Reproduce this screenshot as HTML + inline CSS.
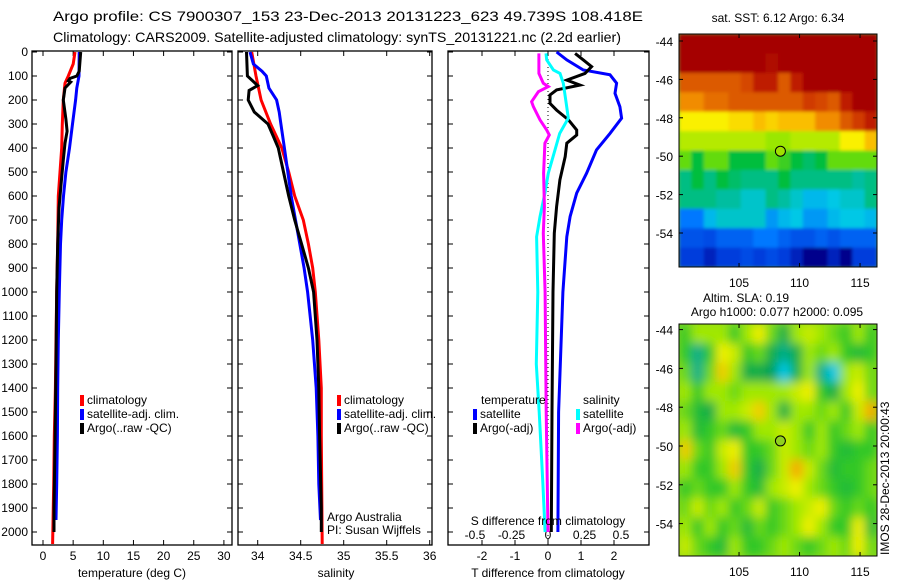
<!DOCTYPE html>
<html><head><meta charset="utf-8"><style>
html,body{margin:0;padding:0;background:#fff;}
svg{display:block;font-family:"Liberation Sans",sans-serif;}
text{font-size:12px;fill:#000;}
</style></head><body>
<svg id="fig" width="900" height="580" viewBox="0 0 900 580">
<defs>
<filter id="blurSla" x="0" y="0" width="1" height="1"><feGaussianBlur stdDeviation="5" edgeMode="duplicate"/></filter>
<filter id="blurSst" x="0" y="0" width="1" height="1"><feGaussianBlur stdDeviation="1.5" edgeMode="duplicate"/></filter>
<clipPath id="clipSst"><rect x="679" y="34" width="198" height="233"/></clipPath>
<clipPath id="clipSla"><rect x="679" y="324" width="198" height="232"/></clipPath>
</defs>
<text x="53" y="21" textLength="590" lengthAdjust="spacingAndGlyphs" style="font-size:14px">Argo profile: CS 7900307_153 23-Dec-2013 20131223_623 49.739S 108.418E</text>
<text x="53" y="42" textLength="568" lengthAdjust="spacingAndGlyphs" style="font-size:14px">Climatology: CARS2009. Satellite-adjusted climatology: synTS_20131221.nc (2.2d earlier)</text>
<g id="g"></g>
</svg>
<script>
// ---------- data ----------
const depthTicks=[0,100,200,300,400,500,600,700,800,900,1000,1100,1200,1300,1400,1500,1600,1700,1800,1900,2000];
const tempTicks=[0,5,10,15,20,25,30];
const salTicks=[34,34.5,35,35.5,36];
const salTickLabels=["34","34.5","35","35.5","36"];
const tdTicks=[-2,-1,0,1,2];
const sdTicks=[-0.5,-0.25,0,0.25,0.5];
const sdTickLabels=["-0.5","-0.25","0","0.25","0.5"];

const climTD=[0,50,100,130,200,300,400,500,600,800,1000,1200,1400,1600,1800,2050];
const climT=[5.3,5.0,4.2,3.65,3.37,3.2,3.1,2.82,2.54,2.43,2.27,2.16,2.05,1.88,1.77,1.6];
const satTD=[0,100,150,200,300,400,500,600,700,800,1000,1200,1400,1600,1800,1950];
const satT=[6.0,5.97,5.6,5.4,4.9,4.4,3.8,3.4,3.1,2.9,2.7,2.54,2.43,2.38,2.27,2.16];
const argoTD=[0,80,100,110,120,125,150,200,280,330,380,450,550,650,800,1000,1300,1600,1900,2000];
const argoT=[6.25,6.0,5.6,4.5,4.2,4.6,3.65,3.37,3.8,4.0,3.65,3.37,3.0,2.65,2.43,2.27,2.16,2.0,1.82,1.82];

const climSD=[0,100,200,300,400,500,600,700,800,900,1000,1200,1400,1600,2050];
const climS=[33.93,33.98,34.04,34.15,34.28,34.36,34.43,34.53,34.59,34.64,34.67,34.71,34.74,34.74,34.75];
const satSD=[0,50,80,100,150,200,250,300,400,500,600,700,800,900,1000,1200,1400,1600,1800,1950];
const satS=[33.91,33.95,34.05,34.1,34.13,34.22,34.25,34.27,34.31,34.35,34.39,34.44,34.49,34.54,34.58,34.64,34.68,34.7,34.71,34.73];
const argoSD=[0,100,140,160,200,250,300,350,400,500,600,700,800,900,1000,1200,1400,1600,1900,2000];
const argoS=[33.87,33.88,34.0,33.9,33.89,33.96,34.12,34.18,34.24,34.3,34.36,34.43,34.51,34.59,34.65,34.69,34.71,34.72,34.74,34.74];

const dTsatD=[0,33,75,95,130,172,228,276,339,408,505,588,686,770,1000,1500,2000];
const dTsat=[0.26,0.57,1.07,1.88,2.08,2.03,2.18,2.23,1.88,1.47,1.17,0.87,0.67,0.57,0.45,0.32,0.3];
const dTargoD=[6,33,61,89,117,138,158,179,214,242,283,325,346,380,436,533,644,755,1000,1500,2000];
const dTargo=[0.82,1.07,1.32,1.12,0.57,0.97,0.26,0.06,0.06,0.26,0.62,0.87,0.87,0.57,0.52,0.36,0.26,0.19,0.15,0.12,0.1];
const dSsatD=[6,33,75,89,130,228,276,339,408,505,588,686,770,1000,1300,1500,1800,2000];
const dSsat=[-0.014,-0.009,0.037,0.082,0.105,0.128,0.139,0.08,0.048,0.002,-0.021,-0.055,-0.078,-0.07,-0.08,-0.06,-0.035,-0.02];
const dSargoD=[6,89,130,144,165,207,228,283,325,346,380,505,644,755,1000,1500,2000];
const dSargo=[-0.062,-0.062,-0.032,0.002,-0.066,-0.112,-0.1,-0.055,-0.009,0.009,-0.021,-0.03,-0.025,-0.032,-0.02,-0.012,0];

const sstGrid=[
[10,10,10,10,10,10,10,10,10,10,10,10,10,10,10,10],
[10,10,10,10,10,10,10,9.8,10,10,10,10,10,10,10,10],
[8.5,8.5,8.5,8.5,8.5,8.8,9.5,9.5,8.5,9.5,10,10,10,10,10,10],
[8,8,8.3,8.3,8.5,8.5,8.5,8.5,8.5,8.5,9,8.8,8.5,9.5,10,10],
[7,7,7,7,7.2,7.2,7.5,7.3,7.5,7.5,7.5,8,8,8.5,9,9.5],
[6.5,6.5,6.5,6.5,6.5,6.5,6.5,6.3,6.3,6.5,6.5,6.5,6.5,7,7,7.5],
[6,5.5,6,6,5.5,5.5,5.5,6,5.8,5.5,5.2,5.5,6,6,6,6],
[5,5.5,5,5.5,5.2,5,5,5,5.5,5,5,5,5,5,4.8,5],
[5,5,5,4.8,4.8,4.5,4.5,5,4.8,4.5,4.2,4.2,4.3,4.5,4.5,5],
[3.8,3.8,4.2,4.5,4.5,4.5,4.5,4,4.2,4.3,4,4,4.2,4.3,4.3,4.2],
[3.3,3.3,3.2,3.5,3.5,3.5,3.8,3.8,3.5,3.3,3.3,3.5,3.3,3.5,3.5,3.5],
[3,3,2.8,3,3,3.2,3,3.2,3,2.8,2.5,2.3,2.8,2.5,3,3]];
const slaGrid=[
[0,0.1,0.1,0.1,0,0.1,0.2,0.05,-0.1,0.1,0.15,0.1,0.05,0,0.1,0],
[0,-0.2,0,0.2,0.15,0,0.05,-0.1,-0.2,-0.1,0.1,0.05,0.1,0,-0.05,0],
[0.05,-0.2,0.05,0.25,0.1,-0.1,-0.1,-0.15,-0.3,-0.1,0.1,-0.2,-0.3,0.1,0.15,0.05],
[0.1,0,0.1,0.1,0.05,0.1,0.1,0.1,0.1,0.15,0.2,0,-0.1,0.1,0.2,0.05],
[0.05,-0.05,-0.1,0.1,0.1,0.15,0.25,0.1,-0.1,0.1,0.1,0.05,0.1,0,0.15,0.3],
[0.1,-0.05,0,0.05,-0.05,0,0.1,0.1,0.15,0.1,0,0.1,0,0.05,0.1,0],
[0.25,0.05,0,0.15,0.2,0,0,0.05,0.15,0.1,0.05,0.1,0,-0.05,0,0],
[0.1,0,0,0.1,0.25,0,-0.1,0.05,0.15,0.3,0.15,0.05,-0.05,0,0,0.05],
[0,0.05,0,0,0.1,0,-0.05,0.1,0.15,0.2,0.1,0.05,0,-0.05,0,0.05],
[0.05,0.15,0.05,0.1,0,0.05,0.15,0,0.05,0.1,0.15,0.2,0.05,0,0.05,0],
[0.1,0,0.1,0,0.05,-0.05,0.05,0,0.05,0.1,0.2,0.1,0,0,0.2,-0.05],
[0.15,0.05,0,-0.05,0.1,0,0,0.05,0.1,0.05,0,0.05,0.1,0.05,0.2,0.05]];
const latTicks=[-44,-46,-48,-50,-52,-54];
const lonTicks=[105,110,115];
const argoLon=108.418, argoLat=-49.739;

// ---------- helpers ----------
const NS="http://www.w3.org/2000/svg";
const G=document.getElementById('g');
function mk(tag,attrs,parent){const e=document.createElementNS(NS,tag);for(const k in attrs)e.setAttribute(k,attrs[k]);(parent||G).appendChild(e);return e;}
function txt(x,y,s,anchor,size,parent){const t=mk('text',{x:x,y:y,'text-anchor':anchor||'start'},parent);if(size)t.style.fontSize=size+'px';t.textContent=s;return t;}
const yD=d=>52+d*0.24;
const PT={l:32,r:232,x:v=>43+v*6.03};
const PS={l:238,r:432,x:v=>257.7+(v-34)*86};
const PD={l:448,r:649,x:v=>548+v*33,xs:v=>548+v*146};
const TOP=51,BOT=545;

function frame(p,name){
  const r=mk('rect',{x:p.l,y:TOP,width:p.r-p.l,height:BOT-TOP,fill:'none',stroke:'#000','stroke-width':1.3});
  
  
  depthTicks.forEach(d=>{const y=yD(d);
    mk('line',{x1:p.l,y1:y,x2:p.l+5,y2:y,stroke:'#000'});
    mk('line',{x1:p.r,y1:y,x2:p.r-5,y2:y,stroke:'#000'});});
}
function xticks(p,ticks,fx,labels,ly){
  ticks.forEach((v,i)=>{const x=fx(v);
    mk('line',{x1:x,y1:TOP,x2:x,y2:TOP+5,stroke:'#000'});
    mk('line',{x1:x,y1:BOT,x2:x,y2:BOT-5,stroke:'#000'});
    if(ly){const t=txt(x,ly,labels?labels[i]:String(v),'middle');
      
      }});
}
function line(ds,vs,fx,color,name){
  const pts=ds.map((d,i)=>fx(vs[i]).toFixed(1)+','+yD(d).toFixed(1)).join(' ');
  const e=mk('polyline',{points:pts,fill:'none',stroke:color,'stroke-width':3,'stroke-linejoin':'miter'});
  
  
}
function legend(x,y,items){
  items.forEach((it,i)=>{const yy=y+i*14;
    const m=mk('rect',{x:x,y:yy-9,width:4,height:11,fill:it[0]});
    
    
    const t=txt(x+7,yy,it[1]);
    
    });
}

depthTicks.forEach(d=>{const t=txt(28,yD(d)+4,String(d),'end');
  
  });

frame(PT,'temperature-panel');
xticks(PT,tempTicks,PT.x,null,560);
line(climTD,climT,PT.x,'#f00','temp-climatology-line');
line(satTD,satT,PT.x,'#00f','temp-satellite-line');
line(argoTD,argoT,PT.x,'#000','temp-argo-line');
legend(80,404,[['#f00','climatology'],['#00f','satellite-adj. clim.'],['#000','Argo(..raw -QC)']]);
let at=txt(132,577,'temperature (deg C)','middle');

frame(PS,'salinity-panel');
xticks(PS,salTicks,PS.x,salTickLabels,560);
line(climSD,climS,PS.x,'#f00','sal-climatology-line');
line(satSD,satS,PS.x,'#00f','sal-satellite-line');
line(argoSD,argoS,PS.x,'#000','sal-argo-line');
legend(337,404,[['#f00','climatology'],['#00f','satellite-adj. clim.'],['#000','Argo(..raw -QC)']]);
at=txt(327,521,'Argo Australia');
at=txt(327,534,'PI: Susan Wijffels');
at=txt(336,577,'salinity','middle');

frame(PD,'difference-panel');
xticks(PD,tdTicks,PD.x,null,560);
sdTicks.forEach((v,i)=>{const t=txt(PD.xs(v),539,sdTickLabels[i],'middle');});
mk('line',{x1:PD.x(0),y1:TOP,x2:PD.x(0),y2:BOT,stroke:'#000','stroke-dasharray':'1,3'});
line(dTsatD,dTsat,PD.x,'#00f','tdiff-satellite-line');
line(dTargoD,dTargo,PD.x,'#000','tdiff-argo-line');
line(dSsatD,dSsat,PD.xs,'#0ff','sdiff-satellite-line');
line(dSargoD,dSargo,PD.xs,'#f0f','sdiff-argo-line');
at=txt(481,404,'temperature');
at=txt(583,404,'salinity');
legend(473,418,[['#00f','satellite'],['#000','Argo(-adj)']]);
legend(576,418,[['#0ff','satellite'],['#f0f','Argo(-adj)']]);
at=txt(548,525,'S difference from climatology','middle');
at=txt(548,577,'T difference from climatology','middle');

// ---------- maps ----------
function lerpStops(stops,v){
  if(v<=stops[0][0])return stops[0][1];
  for(let i=1;i<stops.length;i++){if(v<=stops[i][0]){const a=stops[i-1],b=stops[i],t=(v-a[0])/(b[0]-a[0]);
    return a[1].map((c,k)=>Math.round(c+(b[1][k]-c)*t));}}
  return stops[stops.length-1][1];
}
const sstStops=[[2.5,[0,0,140]],[3,[0,60,220]],[3.8,[0,120,255]],[4.3,[0,200,230]],[4.8,[0,190,160]],[5.5,[0,190,60]],[6.2,[140,230,0]],[7,[250,240,0]],[7.8,[250,160,0]],[8.5,[220,90,0]],[9.3,[200,40,0]],[10,[165,0,0]]];
const slaStops=[[-0.3,[0,200,230]],[-0.15,[0,160,90]],[0,[50,200,40]],[0.1,[160,232,0]],[0.2,[240,240,0]],[0.3,[245,170,0]]];
function map(m){
  const L=679,R=877,lon0=100.04,lon1=116.4;
  const xL=lon=>L+(lon-lon0)/(lon1-lon0)*(R-L);
  const yL=lat=>m.y44+(-44-lat)*m.sc;
  const lat0=-44+(m.y44-m.top)/m.sc, lat1=-44-(m.bot-m.y44)/m.sc;
  const grid=m.grid,nr=grid.length,nc=grid[0].length;
  const outer=mk('g',{'clip-path':'url(#'+m.clip+')'});
  mk('rect',{x:L,y:m.top,width:R-L,height:m.bot-m.top,fill:m.bg},outer);
  const gg=mk('g',{filter:'url(#'+m.filter+')'},outer);
  
  
  for(let r=0;r<nr;r++)for(let c=0;c<nc;c++){
    const la=lat0+(lat1-lat0)*r/nr, lb=lat0+(lat1-lat0)*(r+1)/nr;
    const oa=lon0+(lon1-lon0)*c/nc, ob=lon0+(lon1-lon0)*(c+1)/nc;
    const col=lerpStops(m.stops,grid[r][c]);
    const cell=mk('rect',{x:xL(oa),y:yL(la),width:xL(ob)-xL(oa)+0.5,height:yL(lb)-yL(la)+0.5,fill:'rgb('+col.join(',')+')'},gg);
    
    
  }
  mk('rect',{x:L,y:m.top,width:R-L,height:m.bot-m.top,fill:'none',stroke:'#000'});
  latTicks.forEach(la=>{const y=yL(la);mk('line',{x1:L,y1:y,x2:L+4,y2:y,stroke:'#000'});mk('line',{x1:R,y1:y,x2:R-4,y2:y,stroke:'#000'});
    const t=txt(673,y+5,String(la),'end');});
  lonTicks.forEach(lo=>{const x=xL(lo);mk('line',{x1:x,y1:m.top,x2:x,y2:m.top+4,stroke:'#000'});mk('line',{x1:x,y1:m.bot,x2:x,y2:m.bot-4,stroke:'#000'});
    const t=txt(x,m.bot+20,String(lo),'middle');});
  const c=mk('circle',{cx:xL(argoLon),cy:yL(argoLat),r:5,fill:m.dot,stroke:'#000','stroke-width':1});
  
  
}
map({name:'sst-map',grid:sstGrid,stops:sstStops,top:34,bot:267,y44:41,sc:19.2,dot:'#a0e000',clip:'clipSst',filter:'blurSst',bg:'#60c040'});
map({name:'sla-map',grid:slaGrid,stops:slaStops,top:324,bot:556,y44:329.6,sc:19.4,dot:'#90d020',clip:'clipSla',filter:'blurSla',bg:'#90d820'});
at=txt(778,22,'sat. SST: 6.12 Argo: 6.34','middle');
at=txt(703,302,'Altim. SLA: 0.19');
at=txt(777,316,'Argo h1000: 0.077 h2000: 0.095','middle');
at=txt(0,0,'IMOS 28-Dec-2013 20:00:43');at.setAttribute('transform','translate(889,555) rotate(-90)');

</script>
</body></html>
